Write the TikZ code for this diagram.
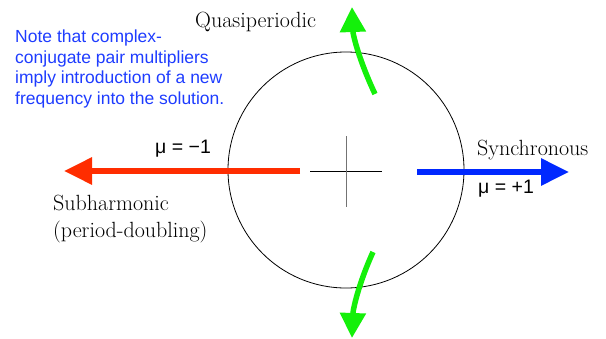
\documentclass[tikz,border=0pt]{standalone}
\usepackage{fontspec}
\usepackage{xcolor}
\usetikzlibrary{arrows.meta, positioning}
\newfontfamily\notefont{Liberation Sans}
\definecolor{fmred}{RGB}{255, 45, 0}
\definecolor{fmblue}{RGB}{0, 40, 255}
\definecolor{fmgreen}{RGB}{20, 240, 10}
\definecolor{fmtext}{RGB}{30, 60, 255}

\tikzset{
  bigarrow/.style={line width=6pt, -{Triangle[length=28pt, width=26pt]}},
  greenarrow/.style={fmgreen, line width=5.5pt, -{Triangle[length=25pt, width=25pt]}},
  serif label/.style={font=\fontsize{22}{27}\selectfont, inner sep=0pt},
  mu label/.style={font=\notefont\fontsize{19.5}{22}\selectfont, inner sep=0pt},
}

\begin{document}
\begin{tikzpicture}[x=1pt, y=-1pt]
  \useasboundingbox (0,0) rectangle (606,338);

  % --- unit circle ---
  \coordinate (centre) at (346,170);
  \draw[black, line width=0.8pt] (centre) circle (118);

  % --- cross at the origin ---
  \draw[black, line width=1pt] (310,171) -- (382,171);
  \draw[black!55, line width=1pt] (346,136) -- (346,207);

  % --- real axis crossings ---
  \coordinate (subStart) at (300,171);
  \coordinate (subEnd) at (64,171);
  \draw[bigarrow, fmred] (subStart) -- (subEnd);
  \coordinate (synStart) at (417,172);
  \coordinate (synEnd) at (569,172);
  \draw[bigarrow, fmblue] (synStart) -- (synEnd);

  % --- complex-conjugate pair ---
  \coordinate (quaUpStart) at (375,94);
  \coordinate (quaUpEnd) at (352,7);
  \draw[greenarrow] (quaUpStart) .. controls (359,60) and (353,35) .. (quaUpEnd);
  \coordinate (quaDnStart) at (373,252);
  \coordinate (quaDnEnd) at (352,338);
  \draw[greenarrow] (quaDnStart) .. controls (358,285) and (353,310) .. (quaDnEnd);

  % --- labels ---
  \node[serif label, anchor=base west] (quasi) at (195,27) {Quasiperiodic};
  \node[serif label, anchor=base west] (sync) at (477,155) {Synchronous};
  \node[mu label, anchor=base west] (muplus) at (478,193) {μ = +1};
  \node[mu label, anchor=base west] (muminus) at (155,153) {μ = −1};
  \node[serif label, anchor=north west, align=left] (subh) at (53,194.5)
    {Subharmonic\\(period-doubling)};

  % --- note ---
  \node[anchor=north west, align=left, inner sep=0pt, text=fmtext,
        font=\notefont\fontsize{17.5}{20.5}\selectfont] (note) at (15,30)
    {Note that complex-\\conjugate pair multipliers\\imply introduction of a new\\frequency into the solution.};

\end{tikzpicture}
\end{document}
